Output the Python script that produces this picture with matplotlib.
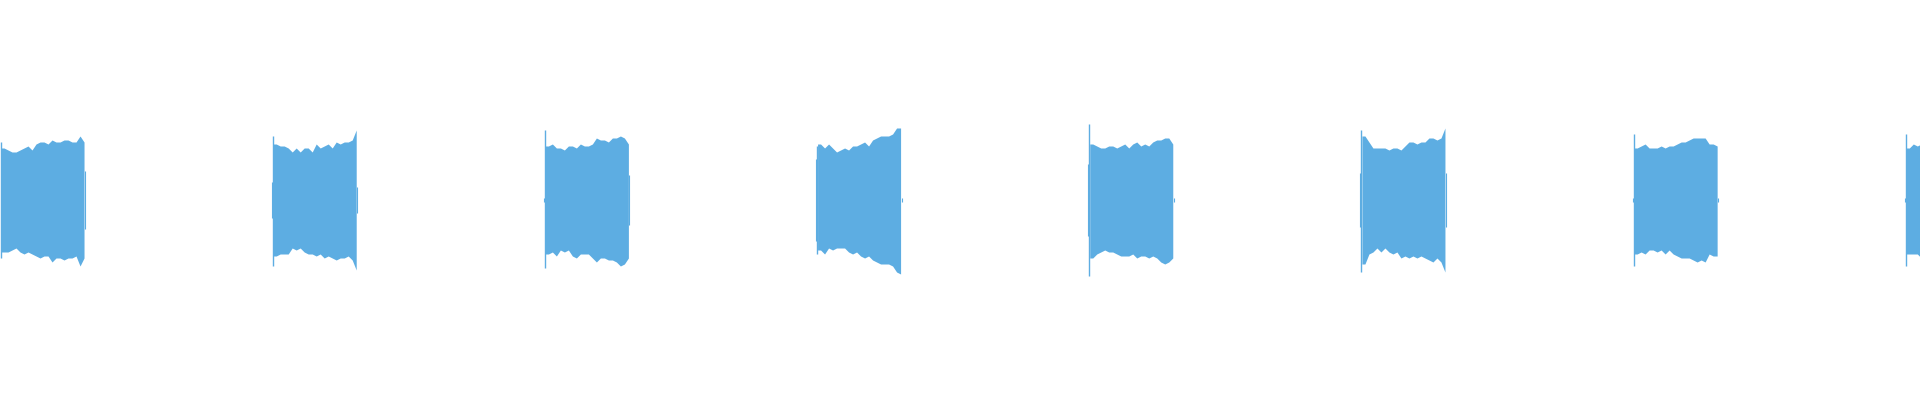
import numpy as np
import matplotlib
matplotlib.use("Agg")
import matplotlib.pyplot as plt

# waveform overview: 8 tone bursts, one per second
# envelope (max / min per column) read every ~4 px, in full-scale units
# first value of each burst is the 1-px onset spike
onsets = [0, 1, 2, 3, 4, 5, 6, 7]          # seconds
step = 0.0147                               # seconds between envelope samples
duration = 7.054                            # visible length in seconds

top_1 = [0.29,0.26,0.25,0.24,0.24,0.25,0.26,0.27,0.25,0.28,0.29,0.29,0.28,0.30,0.29,0.29,0.30,0.30,0.29,0.29,0.32,0.29]
bot_1 = [0.29,0.26,0.26,0.25,0.24,0.26,0.27,0.26,0.27,0.28,0.29,0.28,0.28,0.31,0.29,0.29,0.30,0.29,0.29,0.28,0.33,0.29]
top_2 = [0.32,0.28,0.27,0.27,0.26,0.24,0.26,0.24,0.26,0.26,0.24,0.28,0.26,0.27,0.28,0.26,0.29,0.28,0.29,0.29,0.30,0.35]
bot_2 = [0.33,0.28,0.27,0.27,0.27,0.24,0.25,0.24,0.26,0.27,0.27,0.28,0.27,0.29,0.28,0.29,0.30,0.29,0.29,0.28,0.30,0.35]
top_3 = [0.35,0.27,0.28,0.26,0.26,0.25,0.27,0.27,0.26,0.28,0.27,0.27,0.28,0.31,0.30,0.30,0.29,0.31,0.31,0.32,0.31,0.28]
bot_3 = [0.34,0.27,0.26,0.28,0.25,0.26,0.25,0.28,0.29,0.27,0.27,0.27,0.29,0.31,0.29,0.29,0.30,0.30,0.31,0.33,0.32,0.29]
top_4 = [0.27,0.28,0.26,0.28,0.26,0.24,0.25,0.26,0.25,0.27,0.27,0.28,0.29,0.27,0.30,0.31,0.32,0.32,0.32,0.33,0.36,0.36]
bot_4 = [0.27,0.25,0.27,0.24,0.25,0.24,0.24,0.24,0.26,0.27,0.26,0.28,0.29,0.28,0.30,0.31,0.32,0.32,0.32,0.33,0.36,0.37]
top_5 = [0.38,0.28,0.27,0.26,0.26,0.27,0.27,0.26,0.27,0.28,0.26,0.28,0.29,0.27,0.28,0.27,0.29,0.30,0.30,0.31,0.31,0.28]
bot_5 = [0.38,0.29,0.27,0.26,0.25,0.26,0.26,0.27,0.28,0.28,0.28,0.27,0.29,0.28,0.28,0.29,0.28,0.29,0.31,0.32,0.31,0.29]
top_6 = [0.35,0.32,0.29,0.26,0.26,0.26,0.26,0.25,0.26,0.26,0.25,0.27,0.29,0.29,0.28,0.29,0.29,0.31,0.31,0.30,0.31,0.36]
bot_6 = [0.36,0.32,0.27,0.26,0.24,0.26,0.24,0.26,0.27,0.26,0.29,0.28,0.29,0.28,0.29,0.28,0.29,0.30,0.31,0.29,0.31,0.36]
top_7 = [0.33,0.26,0.27,0.28,0.26,0.26,0.26,0.27,0.26,0.27,0.27,0.28,0.29,0.29,0.30,0.31,0.31,0.31,0.31,0.28,0.28,0.27]
bot_7 = [0.33,0.27,0.26,0.27,0.25,0.25,0.26,0.25,0.27,0.25,0.27,0.28,0.29,0.29,0.29,0.30,0.31,0.30,0.31,0.27,0.28,0.28]
top_8 = [0.33,0.26,0.28,0.27,0.28]
bot_8 = [0.33,0.27,0.27,0.27,0.29]

tops = [top_1, top_2, top_3, top_4, top_5, top_6, top_7, top_8]
bots = [bot_1, bot_2, bot_3, bot_4, bot_5, bot_6, bot_7, bot_8]

# short columns just before / after each burst
pre_stub = [0.0, 0.09, 0.01, 0.205, 0.18, 0.135, 0.01, 0.01]
end_stub = [0.145, 0.065, 0.125, 0.012, 0.012, 0.135, 0.01, 0.0]

color = "#5dade2"
px = duration / 1920

fig = plt.figure(figsize=(19.2, 4), dpi=100)
ax = fig.add_axes([0, 0, 1, 1])

for k in range(len(onsets)):
  top = np.array(tops[k])
  bot = np.array(bots[k])
  t = onsets[k] + np.arange(len(top)) * step
  # body starts flat at the second sample, onset spike drawn as one column
  t[0] = onsets[k] + px
  top_body = top.copy()
  bot_body = bot.copy()
  top_body[0] = top[1]
  bot_body[0] = bot[1]
  ax.fill_between(t, -bot_body, top_body, color=color, linewidth=0)
  ax.vlines(onsets[k] + 0.5 * px, -bot[0], top[0], color=color, linewidth=1.0)
  if pre_stub[k] > 0:
    ax.vlines(onsets[k] - 0.5 * px, -pre_stub[k], pre_stub[k], color=color, linewidth=0.8)
  if end_stub[k] > 0:
    ax.vlines(t[-1] + px, -end_stub[k], end_stub[k], color=color, linewidth=0.8)

ax.set_xlim(0, duration)
ax.set_ylim(-1, 1)
ax.axis("off")

fig.savefig("out.png", dpi=100)
